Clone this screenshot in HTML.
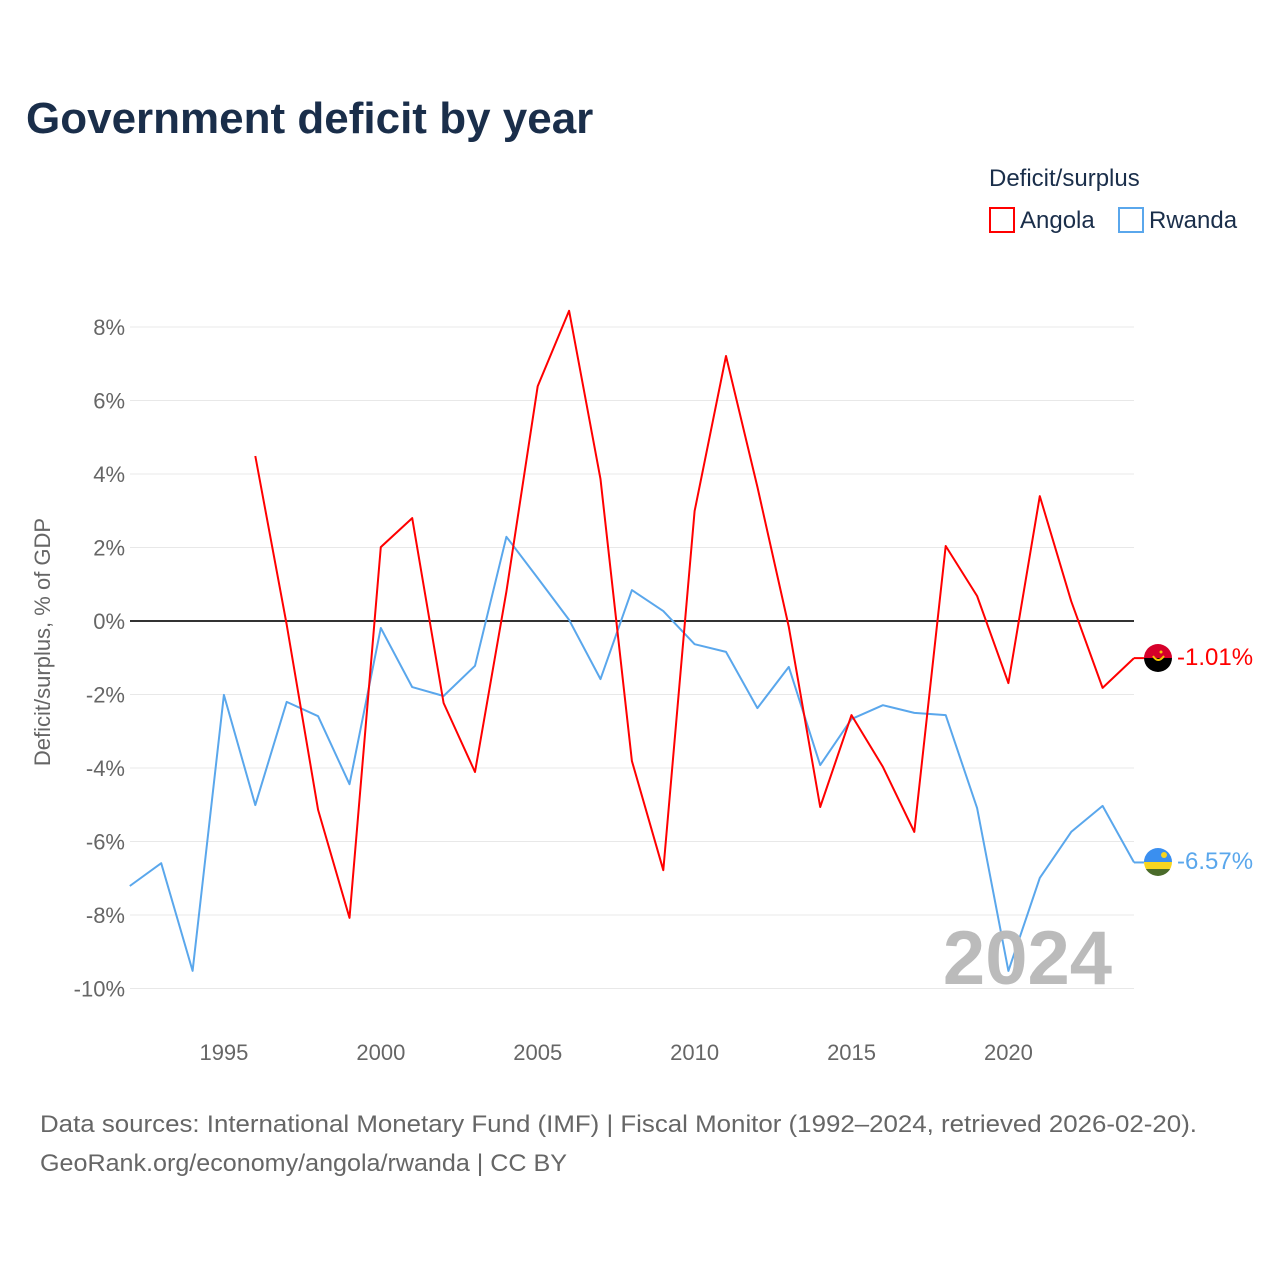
<!DOCTYPE html>
<html><head><meta charset="utf-8"><style>
body{margin:0;background:#fff;font-family:"Liberation Sans",sans-serif}
</style></head><body>
<svg id="chart" width="1280" height="1280" xmlns="http://www.w3.org/2000/svg" style="font-family:'Liberation Sans',sans-serif">
<text x="26" y="133" font-size="44" font-weight="bold" fill="#1a2e4a">Government deficit by year</text>
<text x="989" y="186" font-size="24" fill="#1a2e4a">Deficit/surplus</text>
<g><rect x="990" y="208" width="24" height="24" fill="none" stroke="#ff0000" stroke-width="2"/><text x="1020" y="228" font-size="24" fill="#1a2e4a">Angola</text></g>
<g><rect x="1119" y="208" width="24" height="24" fill="none" stroke="#5aa7ec" stroke-width="2"/><text x="1149" y="228" font-size="24" fill="#1a2e4a">Rwanda</text></g>
<text transform="translate(50,642) rotate(-90)" text-anchor="middle" font-size="22" fill="#666">Deficit/surplus, % of GDP</text>
<g id="grid"></g><g id="ylabels"></g><g id="xlabels"></g><g id="series"></g>
<text x="1112" y="984" text-anchor="end" font-size="76" font-weight="bold" fill="#bbbbbb">2024</text>
<text x="40" y="1132" font-size="24" fill="#666" textLength="1157" lengthAdjust="spacingAndGlyphs">Data sources: International Monetary Fund (IMF) | Fiscal Monitor (1992–2024, retrieved 2026-02-20).</text>
<text x="40" y="1171" font-size="24" fill="#666" textLength="527" lengthAdjust="spacingAndGlyphs">GeoRank.org/economy/angola/rwanda | CC BY</text>
<g>
<clipPath id="ca"><circle cx="1158" cy="658" r="14"/></clipPath>
<g clip-path="url(#ca)"><rect x="1144" y="644" width="28" height="14" fill="#d6002a"/><rect x="1144" y="658" width="28" height="14" fill="#000"/></g>
<path d="M1153 656 q5 8 11 0" stroke="#f5c400" stroke-width="2" fill="none"/><circle cx="1161" cy="652" r="1.5" fill="#f5c400"/>
</g>
<g>
<clipPath id="cr"><circle cx="1158" cy="862" r="14"/></clipPath>
<g clip-path="url(#cr)"><rect x="1144" y="848" width="28" height="14" fill="#3a8ff0"/><rect x="1144" y="862" width="28" height="7" fill="#f7d520"/><rect x="1144" y="869" width="28" height="7" fill="#4a6b2a"/></g>
<circle cx="1164" cy="855" r="3" fill="#f7d520"/>
</g>
<text x="1177" y="665" font-size="24" fill="#ff0000">-1.01%</text>
<text x="1177" y="869" font-size="24" fill="#5aa7ec">-6.57%</text>
</svg>
<script>
const yTicks=[8,6,4,2,0,-2,-4,-6,-8,-10];
const xTicks=[1995,2000,2005,2010,2015,2020];
const angolaYears=[1996,1997,1998,1999,2000,2001,2002,2003,2004,2005,2006,2007,2008,2009,2010,2011,2012,2013,2014,2015,2016,2017,2018,2019,2020,2021,2022,2023,2024];
const angolaValues=[4.49,-0.1,-5.14,-8.08,2.01,2.8,-2.23,-4.11,0.8,6.39,8.44,3.86,-3.81,-6.78,2.99,7.21,3.65,-0.16,-5.06,-2.56,-3.97,-5.74,2.04,0.68,-1.69,3.4,0.54,-1.82,-1.01];
const rwandaYears=[1992,1993,1994,1995,1996,1997,1998,1999,2000,2001,2002,2003,2004,2005,2006,2007,2008,2009,2010,2011,2012,2013,2014,2015,2016,2017,2018,2019,2020,2021,2022,2023,2024];
const rwandaValues=[-7.21,-6.59,-9.52,-2.01,-5.01,-2.2,-2.59,-4.44,-0.19,-1.8,-2.04,-1.22,2.29,1.17,0.03,-1.58,0.84,0.27,-0.63,-0.84,-2.37,-1.25,-3.92,-2.67,-2.29,-2.5,-2.56,-5.09,-9.52,-6.99,-5.74,-5.03,-6.57];
const NS="http://www.w3.org/2000/svg";
function xs(yr){return 129.8+(yr-1992)*31.38;}
function ys(v){return 621-v*36.75;}
function mk(tag,attrs,parent){const e=document.createElementNS(NS,tag);for(const k in attrs)e.setAttribute(k,attrs[k]);document.getElementById(parent).appendChild(e);return e;}
yTicks.forEach(t=>{
  const l=mk('line',{x1:130,x2:1134,y1:ys(t),y2:ys(t),stroke:t===0?'#333':'#e8e8e8','stroke-width':t===0?2:1},'grid');
  
  
  const tx=mk('text',{x:125,y:ys(t)+8,'text-anchor':'end','font-size':22,fill:'#666'},'ylabels');
  tx.textContent=t+'%';
  
  
});
xTicks.forEach(t=>{
  const tx=mk('text',{x:xs(t),y:1060,'text-anchor':'middle','font-size':22,fill:'#666'},'xlabels');
  tx.textContent=t;
  
  
});
function line(years,vals,color,name){
  const d=years.map((y,i)=>(i?'L':'M')+xs(y).toFixed(1)+' '+ys(vals[i]).toFixed(1)).join(' ');
  const p=mk('path',{d:d,fill:'none',stroke:color,'stroke-width':2,'stroke-linejoin':'round'},'series');
  
  
  const lx=xs(years[years.length-1]),ly=ys(vals[vals.length-1]);
  const c=mk('line',{x1:lx,y1:ly,x2:lx+10,y2:ly,stroke:color,'stroke-width':2},'series');
  
  
}
line(rwandaYears,rwandaValues,'#5aa7ec','rwanda-line');
line(angolaYears,angolaValues,'#ff0000','angola-line');
</script>
</body></html>
